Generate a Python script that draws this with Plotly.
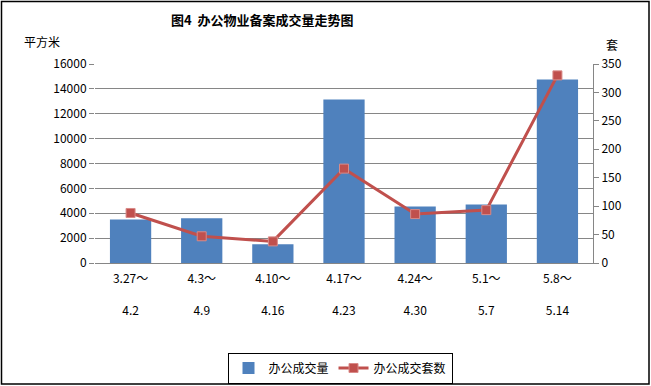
import plotly.graph_objects as go

categories = ["3.27～<br><br>4.2", "4.3～<br><br>4.9", "4.10～<br><br>4.16", "4.17～<br><br>4.23",
              "4.24～<br><br>4.30", "5.1～<br><br>5.7", "5.8～<br><br>5.14"]
area_values = [3500, 3600, 1500, 13150, 4550, 4700, 14750]
units_values = [88, 47, 38, 166, 86, 93, 330]
left_ticks = [0, 2000, 4000, 6000, 8000, 10000, 12000, 14000, 16000]
right_ticks = [0, 50, 100, 150, 200, 250, 300, 350]

FONT = "SimSun, 'Noto Sans CJK SC', sans-serif"
W, H = 651, 386
L, R, T, B = 95, 58, 64, 123
pw, ph = W - L - R, H - T - B

def px(x):
    return (x - L) / pw

def py(y):
    return (H - B - y) / ph

fig = go.Figure()
fig.add_trace(go.Bar(x=categories, y=area_values, name="办公成交量",
                     marker=dict(color="#4F81BD", line=dict(width=0)), width=0.58))
fig.add_trace(go.Scatter(x=categories, y=units_values, name="办公成交套数", yaxis="y2",
                         mode="lines+markers",
                         line=dict(color="#C0504D", width=3),
                         marker=dict(symbol="square", size=9, color="#C0504D",
                                     line=dict(color="#D98A88", width=1))))

fig.update_layout(
    width=W, height=H,
    margin=dict(l=L, r=R, t=T, b=B, autoexpand=False),
    paper_bgcolor="white", plot_bgcolor="white",
    font=dict(family=FONT, size=12, color="black"),
    showlegend=True,
    legend=dict(orientation="h", x=340 / W, xanchor="center", y=1 - 368 / H, yanchor="middle",
                xref="container", yref="container",
                bordercolor="black", borderwidth=1, font=dict(size=12),
                tracegroupgap=0),
    xaxis=dict(type="category", showgrid=False, showline=True, linecolor="#868686",
               linewidth=1, ticks="", tickfont=dict(size=12), range=[-0.5, 6.5],
               automargin=False, ticklabelstandoff=5),
    yaxis=dict(range=[0, 16000], tickvals=left_ticks, ticktext=[str(v) for v in left_ticks],
               showgrid=True, gridcolor="#868686",
               gridwidth=1, showline=False, ticks="outside", ticklen=5, tickcolor="#868686",
               zeroline=False, tickfont=dict(size=12), automargin=False),
    yaxis2=dict(range=[0, 350], tickvals=right_ticks, ticktext=[str(v) for v in right_ticks],
                overlaying="y", side="right",
                showgrid=False, showline=True, linecolor="#868686", linewidth=1,
                ticks="outside", ticklen=5, tickcolor="#868686", zeroline=False,
                tickfont=dict(size=12), automargin=False),
    annotations=[
        dict(text="<b>图4  办公物业备案成交量走势图</b>", x=px(262), y=py(20), xref="paper",
             yref="paper", showarrow=False, font=dict(size=13), xanchor="center", yanchor="middle"),
        dict(text="平方米", x=px(42), y=py(42), xref="paper", yref="paper", showarrow=False,
             font=dict(size=12), xanchor="center", yanchor="middle"),
        dict(text="套", x=px(612), y=py(44), xref="paper", yref="paper", showarrow=False,
             font=dict(size=12), xanchor="center", yanchor="middle"),
    ],
    shapes=[
        dict(type="rect", xref="paper", yref="paper", x0=px(1.5), x1=px(649), y0=py(1.5), y1=py(384),
             line=dict(color="black", width=1.5), fillcolor="rgba(0,0,0,0)", layer="above"),
    ],
)

fig.write_html("out.html", config={"displayModeBar": False},
               post_script="document.body.style.margin='0';document.body.style.padding='0';")
